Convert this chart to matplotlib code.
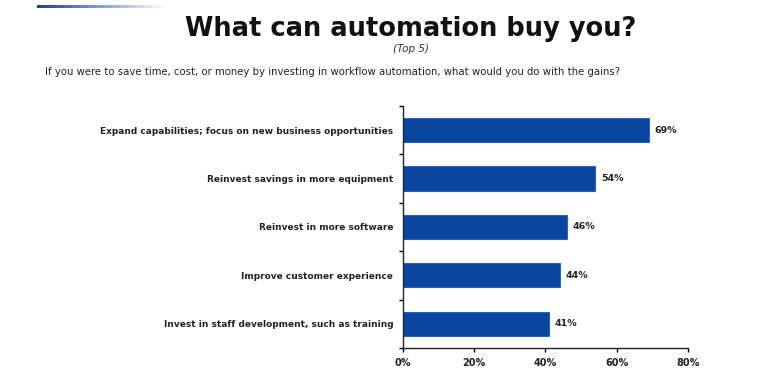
import numpy as np
import matplotlib.pyplot as plt
from matplotlib.colors import LinearSegmentedColormap

categories = ['Expand capabilities; focus on new business opportunities',
              'Reinvest savings in more equipment',
              'Reinvest in more software',
              'Improve customer experience',
              'Invest in staff development, such as training']
values = [69, 54, 46, 44, 41]
xticks = [0, 20, 40, 60, 80]

plt.rcParams['font.family'] = ['DejaVu Sans']

fig = plt.figure(figsize=(7.68, 3.77), dpi=100)
ax = fig.add_axes([0.5247, 0.077, 0.3711, 0.642])

y = np.arange(len(categories))
ax.barh(y, values, height=0.5, color='#0a46a0', edgecolor='#2a66c0', linewidth=0.8)
for yi, v in zip(y, values):
    ax.text(v + 1.6, yi, f'{v}%', va='center', ha='left', fontsize=6.8,
            fontweight='bold', color='#222222')

ax.set_ylim(len(categories) - 0.5, -0.5)
ax.set_xlim(0, 80)
ax.set_xticks(xticks)
ax.set_xticklabels([f'{t}%' for t in xticks], fontsize=7, fontweight='bold', color='#222222')
ax.set_yticks(np.arange(-0.5, len(categories)), minor=False)
ax.set_yticklabels([])
ax.set_yticks(y, minor=True)
ax.set_yticklabels(categories, minor=True, fontsize=6.5, fontweight='bold', color='#222222')
ax.tick_params(axis='y', which='minor', length=0, pad=7)
ax.tick_params(axis='y', which='major', length=3, direction='out', width=1)
ax.tick_params(axis='x', length=3, width=1, direction='out', pad=4)
for s in ['top', 'right']:
    ax.spines[s].set_visible(False)
for s in ['left', 'bottom']:
    ax.spines[s].set_color('#222222')
    ax.spines[s].set_linewidth(1)

# gradient line top-left
grad = LinearSegmentedColormap.from_list('g', ['#1a3fa0', '#ffffff'])
gax = fig.add_axes([37 / 768, 1 - 8 / 377, 130 / 768, 3 / 377])
gax.imshow(np.linspace(0, 1, 200)[None, :], aspect='auto', cmap=grad)
gax.axis('off')

fig.text(0.535, 0.922, 'What can automation buy you?', ha='center', va='center',
         fontsize=18.5, fontweight='bold', color='#111111')
fig.text(0.535, 0.870, '(Top 5)', ha='center', va='center', fontsize=7.5,
         style='italic', color='#333333')
fig.text(0.059, 0.808, 'If you were to save time, cost, or money by investing in workflow automation, what would you do with the gains?',
         ha='left', va='center', fontsize=7.3, color='#222222')

fig.savefig('out.png', dpi=100)
